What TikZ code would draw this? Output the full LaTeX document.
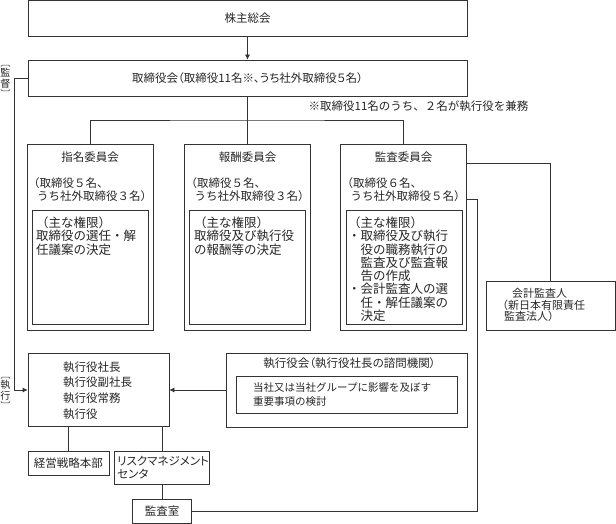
\documentclass[tikz,border=0pt]{standalone}
\usepackage{fontspec}
\setmainfont{Noto Sans CJK JP}
\newfontfamily\jpprop[RawFeature=+palt]{Noto Sans CJK JP}
\usetikzlibrary{arrows.meta}

% vertical bracket around a label node
\newcommand{\tatekakko}[1]{%
  \draw[kakko] ([xshift=-4.5pt,yshift=0.5pt]#1.north) -- ++(0.5pt,2pt) -- ++(8pt,0pt) -- ++(0.5pt,-2pt);
  \draw[kakko] ([xshift=-4.5pt,yshift=-0.5pt]#1.south) -- ++(0.5pt,-2pt) -- ++(8pt,0pt) -- ++(0.5pt,2pt);}

\begin{document}
\begin{tikzpicture}[x=1pt, y=-1pt,
    box/.style={draw=black!80, line width=0.7pt, inner sep=0pt, text=black!85, font=\fontsize{11.5}{13}\selectfont},
    txt/.style={inner sep=0pt, align=left, text=black!85, font=\fontsize{11.5}{13}\selectfont},
    kentxt/.style={txt, anchor=north west, font=\fontsize{12.5}{13.3}\selectfont},
    vlbl/.style={txt, align=center, font=\fontsize{10}{11}\selectfont},
    conn/.style={draw=black!80, line width=0.7pt},
    arr/.style={conn, -{Latex[length=5pt,width=5pt]}},
    kakko/.style={draw=black!80, line width=0.5pt, rounded corners=0.8pt}]
  \useasboundingbox (0, 0) rectangle (616, 524);

  % shareholders and board
  \node (soukai) at (247.5, 18.5) [box, minimum width=439, minimum height=36] {株主総会};
  \node (torishimari) at (247.5, 78) [box, minimum width=439, minimum height=36] {\jpprop 取締役会（取締役11名※、うち社外取締役５名）};
  \node (chuki) at (418.5, 106) [txt] {※取締役11名のうち、２名が執行役を兼務};

  % committees
  \node (shimei) at (90, 237) [box, minimum width=126, minimum height=186] {};
  \node (houshu) at (247.5, 237) [box, minimum width=126, minimum height=186] {};
  \node (kansa) at (403.5, 237) [box, minimum width=126, minimum height=186] {};
  \node (shimeiken) at (90, 267) [box, minimum width=116, minimum height=114] {};
  \node (houshuken) at (247.5, 267) [box, minimum width=116, minimum height=114] {};
  \node (kansaken) at (404, 267.5) [box, minimum width=116, minimum height=114] {};

  \node (shimeimei) at (90, 157) [txt] {指名委員会};
  \node (houshumei) at (247.5, 157) [txt] {報酬委員会};
  \node (kansamei) at (403.5, 157) [txt] {監査委員会};
  \node (shimeinin) at (28, 189.5) [txt, anchor=west] {（取締役５名、\\\hspace*{9pt}うち社外取締役３名）};
  \node (houshunin) at (185.5, 189.5) [txt, anchor=west] {（取締役５名、\\\hspace*{9pt}うち社外取締役３名）};
  \node (kansanin) at (341.5, 189.5) [txt, anchor=west] {（取締役６名、\\\hspace*{9pt}うち社外取締役５名）};

  \node (shimeitxt) at (36, 216.5) [kentxt] {（主な権限）\\取締役の選任・解\\任議案の決定};
  \node (houshutxt) at (194, 216.5) [kentxt] {（主な権限）\\取締役及び執行役\\の報酬等の決定};
  \node (kansatxt) at (348, 216.5) [kentxt] {（主な権限）\\・取締役及び執行\\　役の職務執行の\\　監査及び監査報\\　告の作成\\・会計監査人の選\\　任・解任議案の\\　決定};

  % auditor
  \node (kaikei) at (550.5, 305.5) [box, minimum width=129, minimum height=49] {};
  \node (kaikeitxt) at (497, 305) [txt, anchor=west, font=\fontsize{11}{11.5}\selectfont] {\hspace*{15pt}会計監査人\\（新日本有限責任\\\hspace*{7pt}監査法人）};

  % executives
  \node (shikkou) at (98.5, 390) [box, minimum width=141, minimum height=73] {};
  \node (shikkoutxt) at (63, 390.5) [txt, anchor=west, font=\fontsize{11.5}{15.6}\selectfont] {執行役社長\\執行役副社長\\執行役常務\\執行役};
  \node (kaigi) at (346.5, 390) [box, minimum width=241, minimum height=74] {};
  \node (kaigimei) at (349.5, 363) [txt] {\jpprop 執行役会（執行役社長の諮問機関）};
  \node (kaigiken) at (346.5, 394.5) [box, minimum width=221, minimum height=37] {};
  \node (kaigitxt) at (253, 394.5) [txt, anchor=west, font=\fontsize{10.5}{14.5}\selectfont] {当社又は当社グループに影響を及ぼす\\重要事項の検討};

  \node (keiei) at (68.5, 463) [box, minimum width=81, minimum height=24] {経営戦略本部};
  \node (risk) at (162, 467.5) [box, minimum width=95, minimum height=33] {};
  \node (risktxt) at (117, 467.5) [txt, anchor=west, font=\jpprop\fontsize{11.5}{13}\selectfont] {リスクマネジメント\\センタ};
  \node (kansashitsu) at (162, 511) [box, minimum width=59, minimum height=24] {監査室};

  % side labels
  \node (kantoku) at (5.5, 78) [vlbl] {監\\督};
  \node (shikkoulbl) at (5.5, 390) [vlbl] {執\\行};
  \tatekakko{kantoku}
  \tatekakko{shikkoulbl}

  % connectors
  \coordinate (bunki) at (247.5, 120);
  \coordinate (hidari) at (14, 78);
  \coordinate (kansaroute) at (477, 199);
  \draw[arr] (soukai) -- (torishimari);
  \draw[conn] (torishimari) -- (houshu);
  \draw[conn] (shimei.north) |- (bunki) -| (kansa.north);
  \draw[conn] (kansa.east |- 0,163) -| (kaikei.north);
  \draw[conn] (kansashitsu.east) -| (kansaroute) -- (kansa.east |- kansaroute);
  \draw[arr] (torishimari.west) -- (hidari) |- (shikkou.west);
  \draw[arr] (kaigi.west) -- (kaigi.west -| shikkou.east);
  \draw[conn] (keiei.north |- shikkou.south) -- (keiei.north);
  \draw[conn] (risk.north |- shikkou.south) -- (risk.north);
  \draw[conn] (risk.south) -- (kansashitsu.north);
\end{tikzpicture}
\end{document}
